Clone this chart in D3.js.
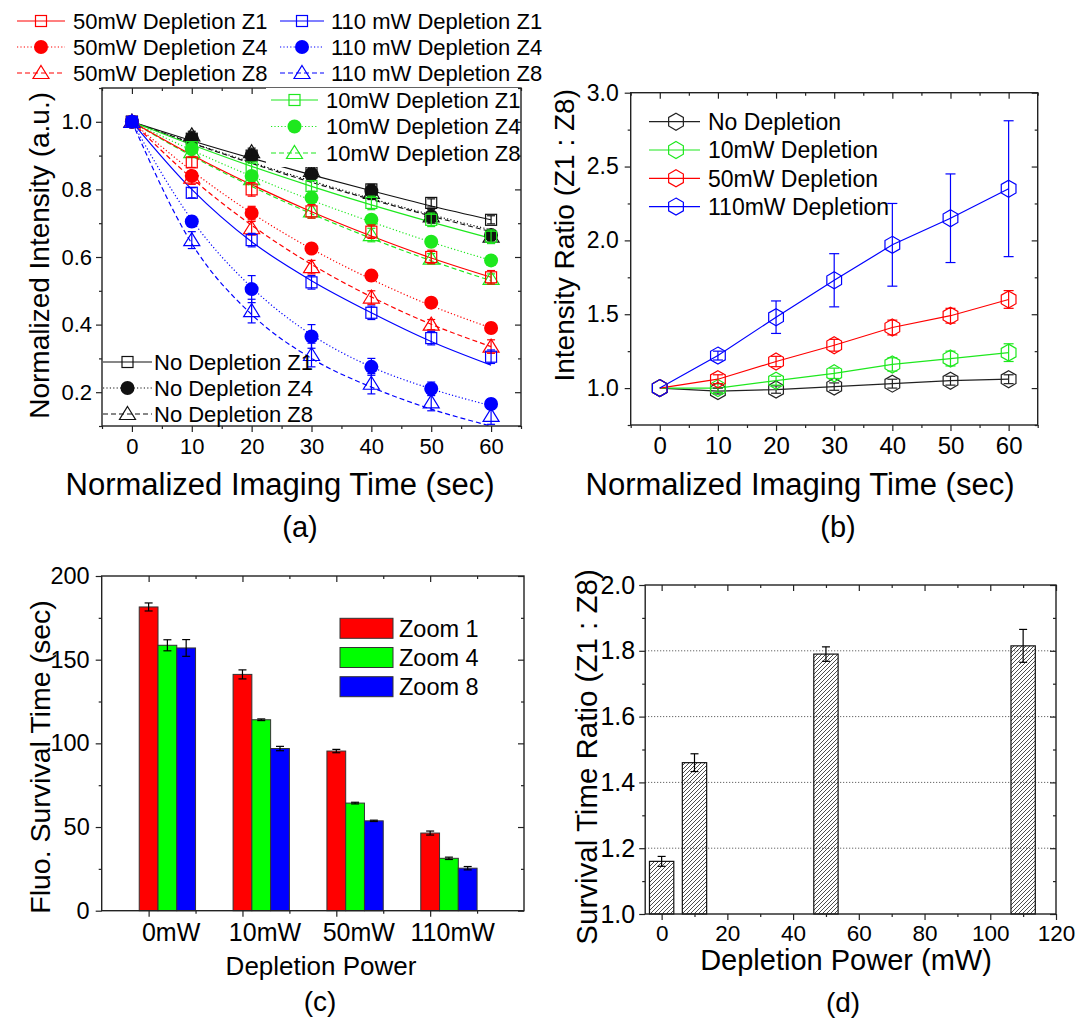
<!DOCTYPE html>
<html>
<head>
<meta charset="utf-8">
<script src="https://cdn.jsdelivr.net/npm/d3@7"></script>
<style>
body { margin: 0; background: #fff; }
svg text { font-family: "Liberation Sans", Arial, sans-serif; fill: #000; }
.axis line { stroke: #222; stroke-width: 1.2; }
.axis .domain { display: none; }
</style>
</head>
<body>
<svg id="fig" width="1083" height="1019"></svg>
<script>
'use strict';

// ---------- panel (a) data : normalized intensity vs time ----------
var timeSec = [0, 10, 20, 30, 40, 50, 60];

var noDepZ1 = [1, 0.95, 0.90, 0.85, 0.80, 0.76, 0.71];
var noDepZ4 = [1, 0.95, 0.90, 0.845, 0.795, 0.72, 0.665];
var noDepZ8 = [1, 0.96, 0.91, 0.855, 0.79, 0.72, 0.66];
var dep10Z1 = [1, 0.925, 0.865, 0.81, 0.76, 0.71, 0.66];
var dep10Z4 = [1, 0.92, 0.84, 0.775, 0.71, 0.645, 0.59];
var dep10Z8 = [1, 0.91, 0.83, 0.735, 0.665, 0.595, 0.535];
var dep50Z1 = [1, 0.88, 0.80, 0.735, 0.675, 0.60, 0.54];
var dep50Z4 = [1, 0.84, 0.73, 0.625, 0.545, 0.465, 0.39];
var dep50Z8 = [1, 0.835, 0.685, 0.57, 0.48, 0.40, 0.335];
var dep110Z1 = [1, 0.79, 0.65, 0.525, 0.435, 0.36, 0.305];
var dep110Z4 = [1, 0.705, 0.505, 0.365, 0.275, 0.21, 0.165];
var dep110Z8 = [1, 0.65, 0.44, 0.31, 0.225, 0.17, 0.13];

var noDepZ1Err = [0, 0.01, 0.01, 0.012, 0.015, 0.012, 0.012];
var noDepZ4Err = [0, 0.01, 0.01, 0.012, 0.015, 0.015, 0.015];
var noDepZ8Err = [0, 0.012, 0.012, 0.015, 0.02, 0.02, 0.02];
var dep10Z1Err = [0, 0.01, 0.012, 0.015, 0.02, 0.02, 0.02];
var dep10Z4Err = [0, 0.01, 0.01, 0.01, 0.012, 0.012, 0.012];
var dep10Z8Err = [0, 0.012, 0.015, 0.02, 0.02, 0.015, 0.015];
var dep50Z1Err = [0, 0.015, 0.02, 0.02, 0.02, 0.02, 0.02];
var dep50Z4Err = [0, 0.015, 0.02, 0.015, 0.015, 0.015, 0.015];
var dep50Z8Err = [0, 0.02, 0.02, 0.02, 0.02, 0.015, 0.02];
var dep110Z1Err = [0, 0.015, 0.02, 0.02, 0.02, 0.02, 0.02];
var dep110Z4Err = [0, 0.015, 0.04, 0.035, 0.025, 0.02, 0.015];
var dep110Z8Err = [0, 0.025, 0.035, 0.035, 0.03, 0.025, 0.025];

// fitted decay curves at the same times
var noDepZ1Fit = [1, 0.944, 0.892, 0.843, 0.796, 0.751, 0.71];
var noDepZ4Fit = [1, 0.938, 0.88, 0.825, 0.773, 0.725, 0.68];
var noDepZ8Fit = [1, 0.937, 0.877, 0.821, 0.77, 0.721, 0.675];
var dep10Z1Fit = [1, 0.932, 0.868, 0.809, 0.754, 0.703, 0.655];
var dep10Z4Fit = [1, 0.916, 0.839, 0.768, 0.704, 0.644, 0.59];
var dep10Z8Fit = [1, 0.899, 0.809, 0.728, 0.655, 0.589, 0.53];
var dep50Z1Fit = [1, 0.902, 0.814, 0.734, 0.662, 0.597, 0.54];
var dep50Z4Fit = [1, 0.855, 0.73, 0.624, 0.534, 0.456, 0.39];
var dep50Z8Fit = [1, 0.833, 0.694, 0.578, 0.482, 0.401, 0.335];
var dep110Z1Fit = [1, 0.80, 0.645, 0.53, 0.435, 0.35, 0.28];
var dep110Z4Fit = [1, 0.71, 0.51, 0.37, 0.275, 0.21, 0.16];
var dep110Z8Fit = [1, 0.64, 0.43, 0.30, 0.215, 0.15, 0.10];

// ---------- panel (b) data : Z1/Z8 intensity ratio ----------
var ratioNoDep = [1.0, 0.98, 0.99, 1.01, 1.03, 1.05, 1.06];
var ratio10 = [1.0, 1.0, 1.05, 1.10, 1.16, 1.20, 1.24];
var ratio50 = [1.0, 1.06, 1.18, 1.29, 1.41, 1.49, 1.60];
var ratio110 = [1.0, 1.22, 1.48, 1.73, 1.97, 2.15, 2.35];
var ratioNoDepErr = [0, 0.02, 0.025, 0.025, 0.03, 0.03, 0.03];
var ratio10Err = [0, 0.03, 0.03, 0.035, 0.045, 0.05, 0.06];
var ratio50Err = [0, 0.03, 0.035, 0.04, 0.05, 0.05, 0.06];
var ratio110Err = [0, 0.03, 0.11, 0.18, 0.28, 0.30, 0.46];

// ---------- panel (c) data : survival time ----------
var powerLabels = ["0mW", "10mW", "50mW", "110mW"];
var zoomLabels = ["Zoom 1", "Zoom 4", "Zoom 8"];
var survZ1 = [181.5, 141.2, 95.4, 46.4];
var survZ4 = [158.6, 114.1, 64.3, 31.3];
var survZ8 = [157.0, 96.9, 53.7, 25.4];
var survZ1Err = [2.4, 2.7, 1.0, 1.2];
var survZ4Err = [3.3, 0.5, 0.5, 0.7];
var survZ8Err = [5.0, 1.3, 0.4, 1.0];

// ---------- panel (d) data : survival time ratio ----------
var depPower = [0, 10, 50, 110];
var survRatio = [1.16, 1.46, 1.79, 1.815];
var survRatioErr = [0.015, 0.027, 0.022, 0.05];

var RED = "#ff0000", GREEN = "#1ee81e", BLUE = "#0000ff", BLACK = "#111";
var DOT = "1.2,2.2", DASH = "5,3";

var svg = d3.select("#fig");
var defs = svg.append("defs");

// hatch for panel (d)
defs.append("pattern")
    .attr("id", "hatch")
    .attr("patternUnits", "userSpaceOnUse")
    .attr("width", 4).attr("height", 4)
  .append("path")
    .attr("d", "M-1,1 l2,-2 M0,4 l4,-4 M3,5 l2,-2")
    .attr("stroke", "#000").attr("stroke-width", 0.7);

// --- helpers ---
function frame(g, x, y, o) {
    var xl = x.range()[0], xr = x.range()[1], yb = y.range()[0], yt = y.range()[1];
    var fs = o.fontSize || 22;

    // bottom
    var b = g.append("g").attr("class", "axis").attr("transform", "translate(0," + yb + ")")
        .call(d3.axisBottom(x).tickValues(o.xMajor).tickSizeInner(6).tickSizeOuter(0)
            .tickPadding(o.xPad || 6).tickFormat(o.xFmt || d3.format("d")));
    b.selectAll("text").style("font-size", (o.xFont || fs) + "px");
    if (o.xMinor) g.append("g").attr("class", "axis").attr("transform", "translate(0," + yb + ")")
        .call(d3.axisBottom(x).tickValues(o.xMinor).tickSizeInner(3).tickSizeOuter(0).tickFormat(""));
    // top (inward)
    g.append("g").attr("class", "axis").attr("transform", "translate(0," + yt + ")")
        .call(d3.axisBottom(x).tickValues(o.xMajor).tickSizeInner(6).tickSizeOuter(0).tickFormat(""));
    if (o.xMinor) g.append("g").attr("class", "axis").attr("transform", "translate(0," + yt + ")")
        .call(d3.axisBottom(x).tickValues(o.xMinor).tickSizeInner(3).tickSizeOuter(0).tickFormat(""));

    // left
    var l = g.append("g").attr("class", "axis").attr("transform", "translate(" + xl + ",0)")
        .call(d3.axisLeft(y).tickValues(o.yMajor).tickSizeInner(6).tickSizeOuter(0)
            .tickPadding(o.yPad || 6).tickFormat(o.yFmt));
    l.selectAll("text").style("font-size", (o.yFont || fs) + "px");
    if (o.yMinor) g.append("g").attr("class", "axis").attr("transform", "translate(" + xl + ",0)")
        .call(d3.axisLeft(y).tickValues(o.yMinor).tickSizeInner(3).tickSizeOuter(0).tickFormat(""));
    // right (inward)
    g.append("g").attr("class", "axis").attr("transform", "translate(" + xr + ",0)")
        .call(d3.axisLeft(y).tickValues(o.yMajor).tickSizeInner(6).tickSizeOuter(0).tickFormat(""));
    if (o.yMinor) g.append("g").attr("class", "axis").attr("transform", "translate(" + xr + ",0)")
        .call(d3.axisLeft(y).tickValues(o.yMinor).tickSizeInner(3).tickSizeOuter(0).tickFormat(""));

    g.append("rect")
        .attr("x", xl).attr("y", yt).attr("width", xr - xl).attr("height", yb - yt)
        .attr("fill", "none").attr("stroke", "#222").attr("stroke-width", 1.4);
}

function hexPath(r) {
    var w = r * Math.cos(Math.PI / 6);
    return "M0," + (-r) + "L" + w + "," + (-r / 2) + "L" + w + "," + (r / 2) + "L0," + r +
        "L" + (-w) + "," + (r / 2) + "L" + (-w) + "," + (-r / 2) + "Z";
}

function marker(g, shape, color, cx, cy) {
    if (shape === "square") {
        g.append("rect").attr("x", cx - 5.5).attr("y", cy - 5.5).attr("width", 11).attr("height", 11)
            .attr("fill", "none").attr("stroke", color).attr("stroke-width", 1.2);
    } else if (shape === "circle") {
        g.append("circle").attr("cx", cx).attr("cy", cy).attr("r", 7).attr("fill", color);
    } else if (shape === "triangle") {
        g.append("path").attr("d", "M" + cx + "," + (cy - 7.5) + "l8,13h-16z")
            .attr("fill", "none").attr("stroke", color).attr("stroke-width", 1.2);
    } else if (shape === "hex") {
        g.append("path").attr("d", hexPath(8.5)).attr("transform", "translate(" + cx + "," + cy + ")")
            .attr("fill", "none").attr("stroke", color).attr("stroke-width", 1.2);
    }
}

function errBars(g, xs, ys, errs, x, y, color, cap) {
    xs.forEach(function (t, i) {
        if (!errs[i]) return;
        var px = x(t), y1 = y(ys[i] + errs[i]), y2 = y(ys[i] - errs[i]);
        g.append("line").attr("x1", px).attr("x2", px).attr("y1", y1).attr("y2", y2)
            .attr("stroke", color).attr("stroke-width", 1.2);
        [y1, y2].forEach(function (yy) {
            g.append("line").attr("x1", px - cap).attr("x2", px + cap).attr("y1", yy).attr("y2", yy)
                .attr("stroke", color).attr("stroke-width", 1.2);
        });
    });
}

function rotLabel(text, x, y, size, anchor) {
    svg.append("text")
        .attr("transform", "translate(" + x + "," + y + ") rotate(-90)")
        .attr("text-anchor", anchor || "middle")
        .style("font-size", size + "px")
        .text(text);
}

function label(text, x, y, size, anchor) {
    svg.append("text").attr("x", x).attr("y", y)
        .attr("text-anchor", anchor || "middle")
        .style("font-size", size + "px")
        .text(text);
}

/*------- PANEL (a) -------*/
var xa = d3.scaleLinear().domain([-5, 65]).range([102, 521]);
var ya = d3.scaleLinear().domain([0.1, 1.1]).range([426, 88]);
var ga = svg.append("g");

defs.append("clipPath").attr("id", "clipA").append("rect")
    .attr("x", 102).attr("y", 88).attr("width", 419).attr("height", 338);

var seriesA = [
    { name: "No Depletion Z1", v: noDepZ1, e: noDepZ1Err, f: noDepZ1Fit, c: BLACK, m: "square", d: null },
    { name: "No Depletion Z4", v: noDepZ4, e: noDepZ4Err, f: noDepZ4Fit, c: BLACK, m: "circle", d: DOT },
    { name: "No Depletion Z8", v: noDepZ8, e: noDepZ8Err, f: noDepZ8Fit, c: BLACK, m: "triangle", d: DASH },
    { name: "10mW Depletion Z1", v: dep10Z1, e: dep10Z1Err, f: dep10Z1Fit, c: GREEN, m: "square", d: null },
    { name: "10mW Depletion Z4", v: dep10Z4, e: dep10Z4Err, f: dep10Z4Fit, c: GREEN, m: "circle", d: DOT },
    { name: "10mW Depletion Z8", v: dep10Z8, e: dep10Z8Err, f: dep10Z8Fit, c: GREEN, m: "triangle", d: DASH },
    { name: "50mW Depletion Z1", v: dep50Z1, e: dep50Z1Err, f: dep50Z1Fit, c: RED, m: "square", d: null },
    { name: "50mW Depletion Z4", v: dep50Z4, e: dep50Z4Err, f: dep50Z4Fit, c: RED, m: "circle", d: DOT },
    { name: "50mW Depletion Z8", v: dep50Z8, e: dep50Z8Err, f: dep50Z8Fit, c: RED, m: "triangle", d: DASH },
    { name: "110 mW Depletion Z1", v: dep110Z1, e: dep110Z1Err, f: dep110Z1Fit, c: BLUE, m: "square", d: null },
    { name: "110 mW Depletion Z4", v: dep110Z4, e: dep110Z4Err, f: dep110Z4Fit, c: BLUE, m: "circle", d: DOT },
    { name: "110 mW Depletion Z8", v: dep110Z8, e: dep110Z8Err, f: dep110Z8Fit, c: BLUE, m: "triangle", d: DASH }
];

var fitLine = d3.line()
    .x(function (d) { return xa(d[0]); })
    .y(function (d) { return ya(d[1]); })
    .curve(d3.curveMonotoneX);

var plotA = ga.append("g").attr("clip-path", "url(#clipA)");
seriesA.forEach(function (s) {
    plotA.append("path")
        .datum(timeSec.map(function (t, i) { return [t, s.f[i]]; }))
        .attr("d", fitLine)
        .attr("fill", "none").attr("stroke", s.c).attr("stroke-width", 1.2)
        .attr("stroke-dasharray", s.d);
});
seriesA.forEach(function (s) {
    errBars(plotA, timeSec, s.v, s.e, xa, ya, s.c, 4);
    timeSec.forEach(function (t, i) { marker(plotA, s.m, s.c, xa(t), ya(s.v[i])); });
});

frame(ga, xa, ya, {
    xMajor: [0, 10, 20, 30, 40, 50, 60], xMinor: [-5, 5, 15, 25, 35, 45, 55, 65],
    yMajor: [0.2, 0.4, 0.6, 0.8, 1.0], yMinor: [0.1, 0.3, 0.5, 0.7, 0.9, 1.1],
    yFmt: d3.format(".1f"), fontSize: 22, xPad: 6, yPad: 4
});

// legends of (a)
function legendRow(g, x0, x1, ty, s, textX, size) {
    g.append("line").attr("x1", x0).attr("x2", x1).attr("y1", ty).attr("y2", ty)
        .attr("stroke", s.c).attr("stroke-width", 1.2).attr("stroke-dasharray", s.d);
    marker(g, s.m, s.c, (x0 + x1) / 2, ty);
    g.append("text").attr("x", textX).attr("y", ty).attr("dy", "0.36em")
        .style("font-size", size + "px").text(s.name);
}
var legA = svg.append("g");
[6, 7, 8].forEach(function (k, i) { legendRow(legA, 17, 65, 21 + i * 26, seriesA[k], 73, 22); });
[9, 10, 11].forEach(function (k, i) { legendRow(legA, 280, 324, 21 + i * 26, seriesA[k], 331, 22); });
[3, 4, 5].forEach(function (k, i) {
    legA.append("rect").attr("x", 266).attr("y", 88 + i * 26.5).attr("width", 252).attr("height", 26).attr("fill", "#fff");
    legendRow(legA, 271, 318, 100 + i * 26.5, seriesA[k], 326, 22);
});
[0, 1, 2].forEach(function (k, i) { legendRow(legA, 103, 152, 362 + i * 26, seriesA[k], 154, 22); });

rotLabel("Normalized Intensity (a.u.)", 49, 92, 28, "end");
label("Normalized Imaging Time (sec)", 280, 495, 31);
label("(a)", 300, 537, 29);

/*------- PANEL (b) -------*/
var xb = d3.scaleLinear().domain([-5, 65]).range([630.7, 1037.7]);
var yb = d3.scaleLinear().domain([0.75, 3.0]).range([425, 92.7]);
var gb = svg.append("g");

var seriesB = [
    { name: "No Depletion", v: ratioNoDep, e: ratioNoDepErr, c: "#222" },
    { name: "10mW Depletion", v: ratio10, e: ratio10Err, c: GREEN },
    { name: "50mW Depletion", v: ratio50, e: ratio50Err, c: RED },
    { name: "110mW Depletion", v: ratio110, e: ratio110Err, c: BLUE }
];
var lineB = d3.line().x(function (d) { return xb(d[0]); }).y(function (d) { return yb(d[1]); });
seriesB.forEach(function (s) {
    gb.append("path").datum(timeSec.map(function (t, i) { return [t, s.v[i]]; }))
        .attr("d", lineB).attr("fill", "none").attr("stroke", s.c).attr("stroke-width", 1.2);
});
seriesB.forEach(function (s) {
    errBars(gb, timeSec, s.v, s.e, xb, yb, s.c, 5);
    timeSec.forEach(function (t, i) { marker(gb, "hex", s.c, xb(t), yb(s.v[i])); });
});

frame(gb, xb, yb, {
    xMajor: [0, 10, 20, 30, 40, 50, 60], xMinor: [-5, 5, 15, 25, 35, 45, 55, 65],
    yMajor: [1.0, 1.5, 2.0, 2.5, 3.0], yMinor: [0.75, 1.25, 1.75, 2.25, 2.75],
    yFmt: d3.format(".1f"), fontSize: 23, xFont: 24, xPad: 6, yPad: 6
});

var legB = svg.append("g");
seriesB.forEach(function (s, i) {
    var ty = 121.7 + i * 28.3;
    legB.append("line").attr("x1", 649).attr("x2", 700).attr("y1", ty).attr("y2", ty)
        .attr("stroke", s.c).attr("stroke-width", 1.2);
    marker(legB, "hex", s.c, 676, ty);
    legB.append("text").attr("x", 708).attr("y", ty).attr("dy", "0.36em")
        .style("font-size", "23px").text(s.name);
});

rotLabel("Intensity Ratio (Z1 : Z8)", 574, 89, 28, "end");
label("Normalized Imaging Time (sec)", 800, 495, 31);
label("(b)", 838, 537, 29);

/*------- PANEL (c) -------*/
var xc = d3.scaleLinear().domain([0.5, 5]).range([101.7, 524]);
var yc = d3.scaleLinear().domain([0, 200]).range([910.7, 576]);
var gc = svg.append("g");
var groupPos = [1, 2, 3, 4];
var barW = 0.2;
var barSets = [
    { v: survZ1, e: survZ1Err, c: "#ff0000", off: 0 },
    { v: survZ4, e: survZ4Err, c: "#00ff00", off: 1 },
    { v: survZ8, e: survZ8Err, c: "#0000ff", off: 2 }
];
barSets.forEach(function (s) {
    gc.selectAll(null).data(groupPos).enter().append("rect")
        .attr("x", function (p) { return xc(p - barW / 2 + s.off * barW); })
        .attr("y", function (p, i) { return yc(s.v[i]); })
        .attr("width", xc(barW) - xc(0))
        .attr("height", function (p, i) { return yc(0) - yc(s.v[i]); })
        .attr("fill", s.c).attr("stroke", "#333").attr("stroke-width", 1);
    errBars(gc, groupPos.map(function (p) { return p + s.off * barW; }), s.v, s.e, xc, yc, "#000", 4);
});

frame(gc, xc, yc, {
    xMajor: [1, 2, 3, 4], xMinor: [1.5, 2.5, 3.5, 4.5],
    yMajor: [0, 50, 100, 150, 200], yMinor: [25, 75, 125, 175],
    xFmt: function () { return ""; }, yFmt: d3.format("d"), fontSize: 23.5, yPad: 6
});
groupPos.forEach(function (p, i) {
    label(powerLabels[i], xc(p + 0.24), 941, 25);
});

var legC = svg.append("g");
barSets.forEach(function (s, i) {
    var ty = 628.3 + i * 29.2;
    legC.append("rect").attr("x", 340).attr("y", ty - 10).attr("width", 53).attr("height", 20)
        .attr("fill", s.c).attr("stroke", "#333").attr("stroke-width", 1);
    legC.append("text").attr("x", 399).attr("y", ty).attr("dy", "0.36em")
        .style("font-size", "23.5px").text(zoomLabels[i]);
});

rotLabel("Fluo. Survival Time (sec)", 50, 757, 28.5);
label("Depletion Power", 321, 975, 26);
label("(c)", 320, 1011, 28);

/*------- PANEL (d) -------*/
var xd = d3.scaleLinear().domain([-5, 120]).range([645.2, 1056]);
var yd = d3.scaleLinear().domain([1.0, 2.0]).range([914, 585]);
var gd = svg.append("g");

[1.2, 1.4, 1.6, 1.8].forEach(function (v) {
    gd.append("line").attr("x1", xd(-5)).attr("x2", xd(120)).attr("y1", yd(v)).attr("y2", yd(v))
        .attr("stroke", "#444").attr("stroke-width", 1).attr("stroke-dasharray", "1,2");
});
var barWd = 7.4;
gd.selectAll(null).data(depPower).enter().append("rect")
    .attr("x", function (p) { return xd(p - barWd / 2); })
    .attr("y", function (p, i) { return yd(survRatio[i]); })
    .attr("width", xd(barWd) - xd(0))
    .attr("height", function (p, i) { return yd(1.0) - yd(survRatio[i]); })
    .attr("fill", "url(#hatch)").attr("stroke", "#111").attr("stroke-width", 1.2);
errBars(gd, depPower, survRatio, survRatioErr, xd, yd, "#000", 4);

frame(gd, xd, yd, {
    xMajor: [0, 20, 40, 60, 80, 100, 120], xMinor: [10, 30, 50, 70, 90, 110],
    yMajor: [1.0, 1.2, 1.4, 1.6, 1.8, 2.0], yMinor: [1.1, 1.3, 1.5, 1.7, 1.9],
    yFmt: d3.format(".1f"), fontSize: 25, xFont: 22.5, xPad: 5, yPad: 4
});

rotLabel("Survival Time Ratio (Z1 : Z8)", 597, 757, 29.5);
label("Depletion Power (mW)", 846, 970, 29);
label("(d)", 843, 1012, 28);
</script>
</body>
</html>
